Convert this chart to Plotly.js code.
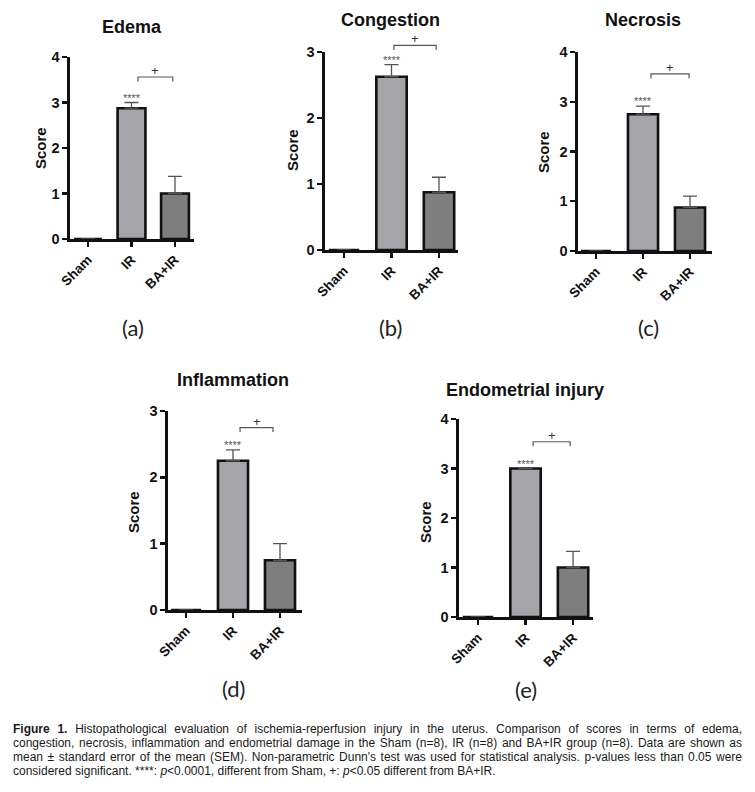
<!DOCTYPE html>
<html><head><meta charset="utf-8">
<script src="https://cdn.plot.ly/plotly-3.0.1.min.js"></script>
<style>
html,body{margin:0;padding:0;background:#fff;}
#wrap{position:relative;width:755px;height:792px;overflow:hidden;}
#chart{position:absolute;left:0;top:0;width:755px;height:792px;}
#caption{position:absolute;left:13px;top:722px;width:729px;font-family:"Liberation Sans Narrow","Liberation Sans",Arial,sans-serif;font-size:12px;line-height:14px;color:#1a1a1a;}
#caption .l{text-align:justify;text-align-last:justify;}
#caption .last{text-align:left;text-align-last:left;}
</style>
</head><body>
<div id="wrap"><div id="chart"></div>
<div id="caption">
<div class="l"><b>Figure 1.</b> Histopathological evaluation of ischemia-reperfusion injury in the uterus. Comparison of scores in terms of edema,</div>
<div class="l">congestion, necrosis, inflammation and endometrial damage in the Sham (n=8), IR (n=8) and BA+IR group (n=8). Data are shown as</div>
<div class="l">mean ± standard error of the mean (SEM). Non-parametric Dunn's test was used for statistical analysis. p-values less than 0.05 were</div>
<div class="l last">considered significant. ****: <i>p</i>&lt;0.0001, different from Sham, +: <i>p</i>&lt;0.05 different from BA+IR.</div>
</div>
</div>
<script>
// ---------- data ----------
const categories = ['Sham', 'IR', 'BA+IR'];
const panelTitles = ['Edema', 'Congestion', 'Necrosis', 'Inflammation', 'Endometrial injury'];
const panelLetters = ['(a)', '(b)', '(c)', '(d)', '(e)'];
const yAxisTitle = 'Score';

const edemaMean = [0, 2.875, 1.0];
const edemaSem = [0, 0.125, 0.378];
const congestionMean = [0, 2.625, 0.875];
const congestionSem = [0, 0.183, 0.227];
const necrosisMean = [0, 2.75, 0.875];
const necrosisSem = [0, 0.164, 0.227];
const inflammationMean = [0, 2.25, 0.75];
const inflammationSem = [0, 0.164, 0.25];
const endometrialMean = [0, 3.0, 1.0];
const endometrialSem = [0, 0, 0.327];

const yMax = [4, 3, 4, 3, 4];
const starLabel = '****';
const plusLabel = '+';
const starGroup = 'IR';
const bracketFrom = [1.15, 1.05, 1.17, 1.15, 1.16];
const bracketTo = [1.95, 1.94, 1.98, 1.85, 1.94];
const bracketLevel = [3.56, 3.1, 3.56, 2.75, 3.54];

const means = [edemaMean, congestionMean, necrosisMean, inflammationMean, endometrialMean];
const sems = [edemaSem, congestionSem, necrosisSem, inflammationSem, endometrialSem];

// ---------- layout geometry (pixels) ----------
const W = 755, H = 792;
const geom = [
  {x0: 70, x1: 194, yTop: 57, yBot: 239, xr: [-0.414, 2.437], title: [132, 27], score: [40, 148], letter: [133, 327]},
  {x0: 325, x1: 458, yTop: 52, yBot: 250, xr: [-0.40, 2.40], title: [390, 20], score: [292, 150], letter: [390, 327]},
  {x0: 578, x1: 712, yTop: 52, yBot: 251, xr: [-0.383, 2.468], title: [643, 20], score: [543, 152], letter: [648, 327]},
  {x0: 168, x1: 302, yTop: 411, yBot: 610, xr: [-0.383, 2.468], title: [233, 380], score: [133, 512], letter: [233, 688]},
  {x0: 459, x1: 593, yTop: 419, yBot: 617, xr: [-0.4, 2.42], title: [525, 390], score: [425, 522], letter: [526, 689]}
];
const barColors = ['#ffffff', '#a4a4a9', '#7e7e7e'];
const ink = '#111111';
const sigColor = '#555555';
const FONT = 'Liberation Sans, Arial, sans-serif';

const traces = [];
const layout = {
  width: W, height: H,
  margin: {l: 0, r: 0, t: 0, b: 0},
  paper_bgcolor: '#ffffff', plot_bgcolor: 'rgba(0,0,0,0)',
  showlegend: false,
  annotations: [], shapes: []
};

geom.forEach((g, i) => {
  const n = i === 0 ? '' : String(i + 1);
  const xa = 'x' + n, ya = 'y' + n;
  traces.push({
    type: 'bar', x: categories, y: means[i], xaxis: xa, yaxis: ya,
    width: 0.64,
    marker: {color: barColors, line: {color: ink, width: 2.6}},
    error_y: {type: 'data', symmetric: false, array: sems[i], arrayminus: sems[i].map(() => 0),
      color: sigColor, thickness: 1.3, width: 7},
    hoverinfo: 'skip'
  });
  layout['xaxis' + n] = {
    domain: [g.x0 / W, g.x1 / W], anchor: ya, range: g.xr, type: 'category',
    showline: true, linewidth: 2.6, linecolor: ink, mirror: false,
    ticks: 'outside', ticklen: 5, tickwidth: 2.4, tickcolor: ink,
    tickangle: -45, tickfont: {family: FONT, size: 13.5, weight: 'bold', color: ink},
    showgrid: false, zeroline: false, fixedrange: true
  };
  layout['yaxis' + n] = {
    domain: [1 - g.yBot / H, 1 - g.yTop / H], anchor: xa, range: [0, yMax[i]],
    tick0: 0, dtick: 1,
    showline: true, linewidth: 2.6, linecolor: ink,
    ticks: 'outside', ticklen: 5, tickwidth: 2.4, tickcolor: ink,
    tickfont: {family: FONT, size: 14.5, weight: 'bold', color: ink},
    showgrid: false, zeroline: false, fixedrange: true
  };
  // titles / labels
  layout.annotations.push({xref: 'paper', yref: 'paper', x: g.title[0] / W, y: 1 - g.title[1] / H,
    xanchor: 'center', yanchor: 'middle', showarrow: false, text: '<b>' + panelTitles[i] + '</b>',
    font: {family: FONT, size: 18, color: ink}});
  layout.annotations.push({xref: 'paper', yref: 'paper', x: g.score[0] / W, y: 1 - g.score[1] / H,
    xanchor: 'center', yanchor: 'middle', showarrow: false, textangle: -90, text: '<b>' + yAxisTitle + '</b>',
    font: {family: FONT, size: 15, color: ink}});
  layout.annotations.push({xref: 'paper', yref: 'paper', x: g.letter[0] / W, y: 1 - g.letter[1] / H,
    xanchor: 'center', yanchor: 'middle', showarrow: false, text: panelLetters[i],
    font: {family: 'Lato, Open Sans, sans-serif', size: 22, color: '#222'}});
  // significance (y in axis-domain units so marks above the range stay visible)
  const yd = ya + ' domain';
  const gi = categories.indexOf(starGroup);
  layout.annotations.push({xref: xa, yref: yd, x: gi, y: (means[i][gi] + sems[i][gi]) / yMax[i],
    xanchor: 'center', yanchor: 'bottom', yshift: -3, showarrow: false, text: starLabel,
    font: {family: FONT, size: 11, color: sigColor}});
  const pxPerUnit = (g.yBot - g.yTop) / yMax[i];
  const drop = 4.5 / pxPerUnit;
  const lv = bracketLevel[i];
  const top = lv / yMax[i], bot = (lv - drop) / yMax[i];
  layout.shapes.push({type: 'path', xref: xa, yref: yd,
    path: `M ${bracketFrom[i]},${bot} L ${bracketFrom[i]},${top} L ${bracketTo[i]},${top} L ${bracketTo[i]},${bot}`,
    line: {color: sigColor, width: 1.2}});
  layout.annotations.push({xref: xa, yref: yd, x: (bracketFrom[i] + bracketTo[i]) / 2, y: top,
    xanchor: 'center', yanchor: 'bottom', yshift: -3, showarrow: false, text: plusLabel,
    font: {family: FONT, size: 13, color: '#333'}});
});

Plotly.newPlot('chart', traces, layout, {staticPlot: true, displayModeBar: false});
</script>
</body></html>
